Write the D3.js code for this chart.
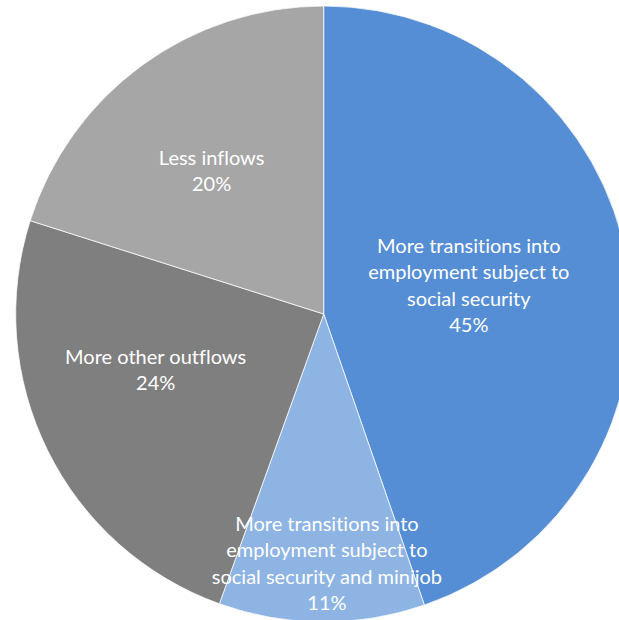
<!DOCTYPE html>
<html>
<head>
<meta charset="utf-8">
<script src="https://cdn.jsdelivr.net/npm/d3@7"></script>
<style>
  html, body { margin: 0; padding: 0; background: #fff; }
  svg { display: block; }
</style>
</head>
<body>
<svg id="chart" width="619" height="620"></svg>
<script>
// slice data, clockwise from 12 o'clock
const categories = [
    "More transitions into employment subject to social security",
    "More transitions into employment subject to social security and minijob",
    "More other outflows",
    "Less inflows"
];
// shares; labels show them rounded
const shares = [44.7, 10.8, 24.4, 20.1];
const labelLines = [
    ["More transitions into", "employment subject to", "social security"],
    ["More transitions into", "employment subject to", "social security and minijob"],
    ["More other outflows"],
    ["Less inflows"]
];
const colors = ["#558ed5", "#8eb4e3", "#7f7f7f", "#a6a6a6"];

// where each label sits: fraction of radius and angle shift (deg) from slice middle
const labelPlace = [
    { r: 0.48, shift: -1.5 },
    { r: 0.81, shift: -1.1 },
    { r: 0.575, shift: 7.9 },
    { r: 0.59, shift: -1.9 }
];

const svg = d3.select("#chart");
const cx = 323.7, cy = 314, radius = 308;
const lineHeight = 26.5;

const pie = d3.pie().sort(null).value(d => d);
const arcs = pie(shares);

const arc = d3.arc().innerRadius(0).outerRadius(radius);

const g = svg.append("g").attr("transform", `translate(${cx},${cy})`);

g.selectAll("path")
    .data(arcs)
    .enter()
    .append("path")
    .attr("d", arc)
    .attr("fill", (d, i) => colors[i])
    .attr("stroke", "#ffffff")
    .attr("stroke-width", 0.75);

// labels
arcs.forEach((d, i) => {
    const p = labelPlace[i];
    const a = (d.startAngle + d.endAngle) / 2 + p.shift * Math.PI / 180;
    const x = Math.sin(a) * radius * p.r;
    const y = -Math.cos(a) * radius * p.r;
    const lines = labelLines[i].concat([Math.round(shares[i]) + "%"]);
    const top = y - (lines.length - 1) * lineHeight / 2;

    const text = g.append("text")
        .attr("text-anchor", "middle")
        .attr("fill", "#ffffff")
        .style("font-family", "Lato, 'Open Sans', sans-serif")
        .style("font-size", "20px")
        .style("font-variant-ligatures", "none");

    lines.forEach((line, k) => {
        text.append("tspan")
            .attr("x", x)
            .attr("y", top + k * lineHeight)
            .attr("dy", "0.35em")
            .text(line);
    });
});
</script>
</body>
</html>
